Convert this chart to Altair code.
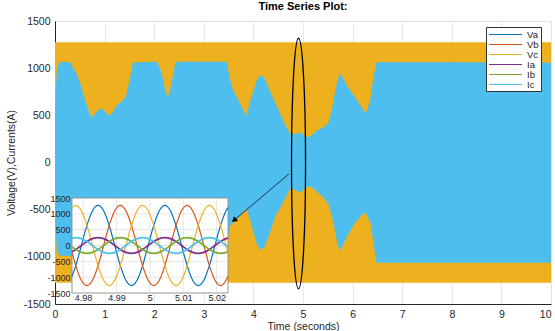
import altair as alt
import pandas as pd

# ---------------- main plot data (envelopes) ----------------
env_t = [0.00, 0.04, 0.10, 0.30, 0.36, 0.44, 0.52, 0.62, 0.70, 0.75, 0.82, 0.92, 1.00, 1.10,
         1.17, 1.25, 1.35, 1.43, 1.50, 1.57, 2.05, 2.12, 2.18, 2.23, 2.27, 2.31, 2.37, 2.43,
         3.40, 3.46, 3.52, 3.59, 3.68, 3.78, 3.86, 3.93, 4.00, 4.08, 4.15, 4.22, 4.33, 4.45,
         4.54, 4.64, 4.74, 4.84, 4.94, 5.02, 5.11, 5.20, 5.28, 5.41, 5.51, 5.58, 5.65, 5.70,
         5.75, 5.82, 5.90, 6.05, 6.18, 6.26, 6.31, 6.36, 6.42, 6.48, 8.00, 10.00]
env_upper = [600, 1000, 1066, 1066, 1010, 935, 820, 640, 520, 478, 530, 575, 545, 490,
             540, 610, 650, 700, 860, 1060, 1068, 1000, 880, 750, 690, 740, 900, 1068,
             1068, 1068, 900, 763, 680, 570, 495, 640, 760, 890, 925, 900, 760, 620,
             516, 400, 304, 300, 321, 285, 268, 300, 339, 374, 420, 560, 750, 880,
             947, 880, 800, 692, 587, 523, 580, 680, 900, 1064, 1062, 1058]
env_lower = [-600, -950, -985, -990, -1010, -935, -820, -640, -520, -478, -530, -575, -545, -490,
             -540, -610, -650, -700, -860, -1060, -1068, -1000, -880, -750, -690, -740, -900, -1068,
             -1068, -900, -680, -640, -600, -530, -491, -600, -740, -880, -926, -900, -750, -560,
             -480, -380, -279, -290, -321, -280, -251, -270, -310, -368, -440, -560, -740, -880,
             -933, -860, -770, -640, -560, -527, -580, -640, -850, -1064, -1062, -1062]

vc_t = [0, 10]
vc_upper = [1275, 1275]
vc_lower = [-1275, -1275]

x_ticks = [0, 1, 2, 3, 4, 5, 6, 7, 8, 9, 10]
y_ticks = [-1500, -1000, -500, 0, 500, 1000, 1500]

# ---------------- inset data (zoom 4.977 s .. 5.023 s) ----------------
inset_domain = [4.9767, 5.0234]
inset_x_ticks = [4.98, 4.99, 5, 5.01, 5.02]
inset_t = [4.9767, 4.97783, 4.97950, 4.98117, 4.98283, 4.98450, 4.98617, 4.98783, 4.98950, 4.99117,
           4.99283, 4.99450, 4.99617, 4.99783, 4.99950, 5.00117, 5.00283, 5.00450, 5.00617, 5.00783,
           5.00950, 5.01117, 5.01283, 5.01450, 5.01617, 5.01783, 5.01950, 5.02117, 5.02283, 5.0234]
va = [-978, -635, 0, 635, 1100, 1270, 1100, 635, 0, -635, -1100, -1270, -1100, -635, 0,
      635, 1100, 1270, 1100, 635, 0, -635, -1100, -1270, -1100, -635, 0, 635, 1100, 1195]
vb = [-212, -635, -1100, -1270, -1100, -635, 0, 635, 1100, 1270, 1100, 635, 0, -635, -1100,
      -1270, -1100, -635, 0, 635, 1100, 1270, 1100, 635, 0, -635, -1100, -1270, -1100, -970]
vc = [1190, 1270, 1100, 635, 0, -635, -1100, -1270, -1100, -635, 0, 635, 1100, 1270, 1100,
      635, 0, -635, -1100, -1270, -1100, -635, 0, 635, 1100, 1270, 1100, 635, 0, -225]
ia = [-193, -125, 0, 125, 217, 250, 217, 125, 0, -125, -217, -250, -217, -125, 0,
      125, 217, 250, 217, 125, 0, -125, -217, -250, -217, -125, 0, 125, 217, 235]
ib = [-42, -125, -217, -250, -217, -125, 0, 125, 217, 250, 217, 125, 0, -125, -217,
      -250, -217, -125, 0, 125, 217, 250, 217, 125, 0, -125, -217, -250, -217, -191]
ic = [234, 250, 217, 125, 0, -125, -217, -250, -217, -125, 0, 125, 217, 250, 217,
      125, 0, -125, -217, -250, -217, -125, 0, 125, 217, 250, 217, 125, 0, -44]

series_names = ["Va", "Vb", "Vc", "Ia", "Ib", "Ic"]
series_colors = ["#0072BD", "#D95319", "#EDB120", "#7E2F8E", "#77AC30", "#4DBEEE"]

# annotations (data coordinates)
ellipse_center = (4.91, -11)
arrow_from = (4.718, -120)
arrow_to = (3.609, -613)

# ---------------- tables ----------------
env_df = pd.DataFrame({"t": env_t, "upper": env_upper, "lower": env_lower})
vc_df = pd.DataFrame({"t": vc_t, "upper": vc_upper, "lower": vc_lower})
rows = []
for name, vals in zip(series_names, [va, vb, vc, ia, ib, ic]):
    for t, v in zip(inset_t, vals):
        rows.append({"t": t, "v": v, "series": name})
inset_df = pd.DataFrame(rows)
volt_df = inset_df[inset_df["series"].isin(["Va", "Vb", "Vc"])]
curr_df = inset_df[inset_df["series"].isin(["Ia", "Ib", "Ic"])]
box_df = pd.DataFrame({"x0": [inset_domain[0]], "x1": [inset_domain[1]],
                       "y0": [y_ticks[0]], "y1": [y_ticks[-1]]})
vgrid_df = pd.DataFrame({"t": inset_x_ticks})
hgrid_df = pd.DataFrame({"v": y_ticks[1:-1]})
one = pd.DataFrame({"k": [0]})

FONT = "Liberation Sans"
DARK = "#262626"

# ---------------- main scales / axes ----------------
mx_scale = alt.Scale(domain=[0, 10], nice=False, zero=False)
my_scale = alt.Scale(domain=[-1500, 1500], nice=False, zero=False)
mx_axis = alt.Axis(values=x_ticks, title="Time (seconds)", grid=True, gridColor="#e2e2e2",
                   gridWidth=0.8, ticks=False, domainColor=DARK, labelColor=DARK,
                   labelFontSize=10.5, labelPadding=5, titleFontSize=10.5,
                   titleFontWeight="normal", titleColor=DARK, titlePadding=2,
                   labelFlush=False,
                   labelAlign={"condition": {"test": "datum.value == 10", "value": "right"},
                               "value": "center"})
my_axis = alt.Axis(values=y_ticks, title="Voltage(V),Currents(A)", labelExpr="'' + datum.value",
                   grid=True, gridColor="#e2e2e2", gridWidth=0.8, ticks=False,
                   domainColor=DARK, labelColor=DARK, labelFontSize=10.5, labelPadding=5,
                   titleFontSize=10.5, titleFontWeight="normal", titleColor=DARK,
                   titlePadding=7, labelFlush=False)

orange = alt.Chart(vc_df).mark_area(color="#EDB120", opacity=1).encode(
    x=alt.X("t:Q", scale=mx_scale, axis=mx_axis),
    y=alt.Y("upper:Q", scale=my_scale, axis=my_axis),
    y2="lower:Q",
)
blue = alt.Chart(env_df).mark_area(color="#4DBEEE", opacity=1).encode(
    x=alt.X("t:Q", scale=mx_scale, axis=mx_axis),
    y=alt.Y("upper:Q", scale=my_scale, axis=my_axis),
    y2="lower:Q",
)
ell_path = "M0,-1 A0.0559,1 0 1,1 0,1 A0.0559,1 0 1,1 0,-1 Z"
ellipse = alt.Chart(one).mark_point(shape=ell_path, size=62800, filled=False, color="black",
                                     strokeWidth=1.3, opacity=1).encode(
    x=alt.X(datum=ellipse_center[0], type="quantitative", scale=mx_scale, axis=mx_axis),
    y=alt.Y(datum=ellipse_center[1], type="quantitative", scale=my_scale, axis=my_axis),
)
arrow_line = alt.Chart(one).mark_rule(color="#1f3347", strokeWidth=1).encode(
    x=alt.X(datum=arrow_from[0], type="quantitative", scale=mx_scale, axis=mx_axis),
    y=alt.Y(datum=arrow_from[1], type="quantitative", scale=my_scale, axis=my_axis),
    x2=alt.X2(datum=arrow_to[0]),
    y2=alt.Y2(datum=arrow_to[1]),
)
arrow_head = alt.Chart(one).mark_point(shape="triangle-up", angle=230, size=40, filled=True,
                                        color="black", opacity=1).encode(
    x=alt.X(datum=arrow_to[0], type="quantitative", scale=mx_scale, axis=mx_axis),
    y=alt.Y(datum=arrow_to[1], type="quantitative", scale=my_scale, axis=my_axis),
)
main = alt.layer(orange, blue, ellipse, arrow_line, arrow_head)

# ---------------- inset ----------------
ix_scale = alt.Scale(domain=inset_domain, range=[17, 173], nice=False, zero=False)
iy_scale = alt.Scale(domain=[-1500, 1500], range=[272, 177], nice=False, zero=False)
ix_axis = alt.Axis(orient="bottom", offset=-11, values=inset_x_ticks, labelExpr="'' + datum.value",
                   grid=False, ticks=False, domain=False,
                   labelFontSize=9, labelColor=DARK, labelPadding=0, title=None, zindex=1,
                   labelFlush=False)
iy_axis = alt.Axis(orient="left", offset=-17, values=y_ticks, labelExpr="'' + datum.value",
                   grid=False, ticks=False, domain=False,
                   labelFontSize=9, labelColor=DARK, labelPadding=2, title=None, zindex=1,
                   labelFlush=False)
legend = alt.Legend(orient="none", legendX=431, legendY=6, title=None, fillColor="white",
                    strokeColor="#333333", padding=2, symbolType="M-1,0H6.33", symbolSize=81,
                    symbolStrokeWidth=1.2, labelFontSize=9.5, labelColor=DARK, labelOffset=28,
                    rowPadding=0, labelFont=FONT)
color = alt.Color("series:N", scale=alt.Scale(domain=series_names, range=series_colors),
                  legend=legend)

box = alt.Chart(box_df).mark_rect(fill="white", stroke="#8a8a8a", strokeWidth=0.9).encode(
    x=alt.X("x0:Q", scale=ix_scale, axis=ix_axis),
    x2="x1:Q",
    y=alt.Y("y0:Q", scale=iy_scale, axis=iy_axis),
    y2="y1:Q",
)
vgrid = alt.Chart(vgrid_df).mark_rule(color="#dadada", strokeWidth=0.7).encode(
    x=alt.X("t:Q", scale=ix_scale, axis=ix_axis),
    y=alt.Y(datum=y_ticks[0], type="quantitative", scale=iy_scale, axis=iy_axis),
    y2=alt.Y2(datum=y_ticks[-1]),
)
hgrid = alt.Chart(hgrid_df).mark_rule(color="#dadada", strokeWidth=0.7).encode(
    y=alt.Y("v:Q", scale=iy_scale, axis=iy_axis),
    x=alt.X(datum=inset_domain[0], type="quantitative", scale=ix_scale, axis=ix_axis),
    x2=alt.X2(datum=inset_domain[1]),
)
vlines = alt.Chart(volt_df).mark_line(strokeWidth=1.2, interpolate="monotone").encode(
    x=alt.X("t:Q", scale=ix_scale, axis=ix_axis),
    y=alt.Y("v:Q", scale=iy_scale, axis=iy_axis),
    color=color,
)
clines = alt.Chart(curr_df).mark_line(strokeWidth=1.7, interpolate="monotone").encode(
    x=alt.X("t:Q", scale=ix_scale, axis=ix_axis),
    y=alt.Y("v:Q", scale=iy_scale, axis=iy_axis),
    color=color,
)
inset = alt.layer(box, vgrid, hgrid, vlines, clines)

chart = alt.layer(main, inset).resolve_scale(x="independent", y="independent").properties(
    width=496, height=283,
    padding={"left": 55, "top": 21, "right": 4, "bottom": 27},
    autosize=alt.AutoSizeParams(type="none"),
    title=alt.TitleParams("Time Series Plot:", fontSize=11, fontWeight="bold", font=FONT,
                          color="black", anchor="middle", offset=4),
).configure_view(stroke="#a0a0a0", strokeWidth=0.8).configure_axis(
    labelFont=FONT, titleFont=FONT
).configure(background="white")

chart.save("out.html", embed_options={"renderer": "svg", "actions": False})
